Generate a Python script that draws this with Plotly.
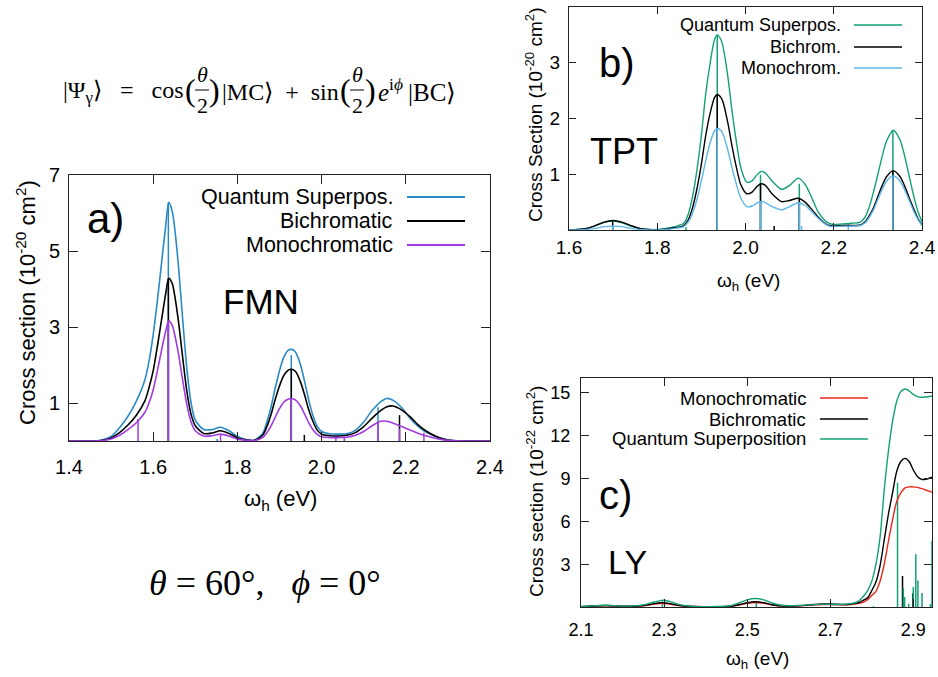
import plotly.graph_objects as go

W, H = 938, 677


def px(x):
    return x / W


def py(y):
    return 1 - y / H


# ---------------- Panel a) FMN ----------------
xa = [1.40, 1.46, 1.48, 1.50, 1.52, 1.54, 1.56, 1.58, 1.59, 1.60, 1.61, 1.62, 1.63, 1.637, 1.645,
      1.65, 1.66, 1.67, 1.68, 1.69, 1.70, 1.72, 1.74, 1.76, 1.78, 1.80, 1.82, 1.84, 1.86, 1.87,
      1.88, 1.89, 1.90, 1.91, 1.92, 1.928, 1.935, 1.94, 1.95, 1.96, 1.97, 1.98, 1.99, 2.00, 2.02,
      2.04, 2.06, 2.08, 2.10, 2.12, 2.14, 2.155, 2.17, 2.19, 2.21, 2.23, 2.25, 2.27, 2.29, 2.31,
      2.34, 2.40]
a_qs = [0, 0, 0.03, 0.12, 0.35, 0.65, 1.05, 1.6, 2.1, 2.8, 3.7, 4.7, 5.7, 6.28, 6.05,
        5.7, 4.6, 3.2, 1.9, 1.0, 0.55, 0.3, 0.3, 0.36, 0.27, 0.12, 0.04, 0.02, 0.2, 0.5,
        0.9, 1.4, 1.85, 2.2, 2.38, 2.41, 2.38, 2.3, 2.0, 1.55, 1.05, 0.65, 0.38, 0.25, 0.19,
        0.18, 0.19, 0.28, 0.5, 0.8, 1.03, 1.12, 1.07, 0.88, 0.6, 0.38, 0.22, 0.12, 0.05, 0.01,
        0, 0]
a_bc = [0, 0, 0.02, 0.08, 0.22, 0.42, 0.68, 1.05, 1.4, 1.85, 2.5, 3.2, 3.9, 4.28, 4.15,
        3.9, 3.15, 2.2, 1.3, 0.7, 0.4, 0.2, 0.21, 0.27, 0.2, 0.08, 0.03, 0.02, 0.15, 0.38,
        0.7, 1.1, 1.45, 1.72, 1.86, 1.89, 1.86, 1.8, 1.55, 1.2, 0.8, 0.5, 0.28, 0.18, 0.14,
        0.13, 0.15, 0.22, 0.38, 0.6, 0.8, 0.9, 0.92, 0.82, 0.64, 0.42, 0.25, 0.13, 0.05, 0.01,
        0, 0]
a_mc = [0, 0, 0.01, 0.05, 0.15, 0.3, 0.48, 0.75, 1.0, 1.35, 1.85, 2.4, 2.9, 3.16, 3.05,
        2.85, 2.3, 1.6, 0.95, 0.5, 0.27, 0.13, 0.14, 0.18, 0.13, 0.05, 0.02, 0.01, 0.09, 0.22,
        0.4, 0.63, 0.85, 1.02, 1.1, 1.12, 1.1, 1.06, 0.92, 0.7, 0.47, 0.29, 0.17, 0.11, 0.09,
        0.09, 0.1, 0.15, 0.25, 0.4, 0.52, 0.52, 0.47, 0.38, 0.29, 0.2, 0.13, 0.07, 0.03, 0.01,
        0, 0]
a_qs_stick_x = [1.636, 1.752, 1.928, 2.134]
a_qs_stick_h = [6.28, 0.05, 2.26, 0.89]
a_bc_stick_x = [1.636, 1.928, 1.959, 2.185]
a_bc_stick_h = [4.28, 1.89, 0.16, 0.68]
a_mc_stick_x = [1.564, 1.636, 1.760, 1.928, 2.034, 2.054, 2.134, 2.185, 2.243]
a_mc_stick_h = [0.58, 3.16, 0.17, 1.12, 0.1, 0.1, 0.51, 0.33, 0.22]
a_xticks = [1.4, 1.6, 1.8, 2.0, 2.2, 2.4]
a_xticklabels = ["1.4", "1.6", "1.8", "2.0", "2.2", "2.4"]
a_yticks = [1, 3, 5, 7]

# ---------------- Panel b) TPT ----------------
xb = [1.60, 1.62, 1.64, 1.66, 1.68, 1.70, 1.72, 1.74, 1.76, 1.78, 1.80, 1.82, 1.84, 1.86, 1.87,
      1.88, 1.89, 1.90, 1.91, 1.92, 1.93, 1.936, 1.945, 1.95, 1.96, 1.97, 1.98, 1.99, 2.003,
      2.015, 2.025, 2.035, 2.045, 2.06, 2.082, 2.10, 2.12, 2.135, 2.15, 2.165, 2.18, 2.19, 2.20,
      2.22, 2.24, 2.26, 2.27, 2.28, 2.29, 2.30, 2.31, 2.32, 2.335, 2.35, 2.36, 2.37, 2.38, 2.39,
      2.40]
b_qs = [0, 0.01, 0.03, 0.08, 0.14, 0.16, 0.13, 0.07, 0.03, 0.01, 0.01, 0.03, 0.06, 0.12, 0.28,
        0.6, 1.08, 1.7, 2.45, 3.0, 3.42, 3.5, 3.4, 3.25, 2.75, 2.1, 1.55, 1.1, 0.86,
        0.88, 0.98, 1.05, 1.02, 0.88, 0.73, 0.8, 0.93, 0.82, 0.58, 0.32, 0.17, 0.12, 0.1,
        0.11, 0.12, 0.14, 0.22, 0.4, 0.68, 1.0, 1.33, 1.6, 1.79, 1.62, 1.35, 1.0, 0.65, 0.35,
        0.15]
b_bc = [0, 0.01, 0.03, 0.08, 0.14, 0.17, 0.14, 0.08, 0.03, 0.01, 0.0, 0.02, 0.04, 0.08, 0.18,
        0.4, 0.74, 1.18, 1.7, 2.1, 2.38, 2.43, 2.37, 2.27, 1.92, 1.48, 1.1, 0.8, 0.65,
        0.68, 0.77, 0.83, 0.8, 0.65, 0.51, 0.53, 0.57, 0.5, 0.37, 0.23, 0.12, 0.08, 0.07,
        0.08, 0.08, 0.09, 0.14, 0.25, 0.4, 0.6, 0.8, 0.96, 1.06, 0.96, 0.8, 0.6, 0.4, 0.22,
        0.09]
b_mc = [0, 0, 0.01, 0.03, 0.06, 0.07, 0.06, 0.03, 0.01, 0, 0, 0.01, 0.03, 0.06, 0.14,
        0.3, 0.55, 0.88, 1.25, 1.57, 1.78, 1.82, 1.78, 1.7, 1.43, 1.1, 0.8, 0.56, 0.42,
        0.43, 0.48, 0.51, 0.49, 0.42, 0.36, 0.42, 0.49, 0.44, 0.33, 0.21, 0.11, 0.07, 0.06,
        0.07, 0.07, 0.08, 0.12, 0.22, 0.36, 0.55, 0.73, 0.88, 0.97, 0.88, 0.73, 0.55, 0.36, 0.2,
        0.08]
b_qs_stick_x = [1.865, 1.936, 2.034, 2.122, 2.334]
b_qs_stick_h = [0.05, 3.5, 0.99, 0.83, 1.79]
b_bc_stick_x = [1.699, 1.936, 2.034, 2.065, 2.122, 2.334]
b_bc_stick_h = [0.17, 2.43, 0.83, 0.07, 0.57, 1.06]
b_mc_stick_x = [1.699, 1.936, 2.034, 2.122, 2.127, 2.233, 2.334]
b_mc_stick_h = [0.07, 1.82, 0.5, 0.49, 0.07, 0.12, 0.97]
b_xticks = [1.6, 1.8, 2.0, 2.2, 2.4]
b_xticklabels = ["1.6", "1.8", "2.0", "2.2", "2.4"]
b_yticks = [1, 2, 3, 4]

# ---------------- Panel c) LY ----------------
xc = [2.10, 2.13, 2.16, 2.19, 2.22, 2.25, 2.27, 2.29, 2.30, 2.32, 2.34, 2.37, 2.40, 2.43, 2.46,
      2.48, 2.50, 2.52, 2.54, 2.56, 2.59, 2.62, 2.65, 2.68, 2.71, 2.74, 2.76, 2.77, 2.78, 2.79,
      2.80, 2.81, 2.82, 2.83, 2.84, 2.85, 2.86, 2.87, 2.88, 2.89, 2.90, 2.91, 2.92, 2.93, 2.945]
c_mc = [0.02, 0.06, 0.09, 0.06, 0.04, 0.08, 0.17, 0.24, 0.24, 0.17, 0.08, 0.03, 0.02, 0.02, 0.05,
        0.14, 0.26, 0.32, 0.26, 0.14, 0.05, 0.06, 0.12, 0.17, 0.16, 0.15, 0.2, 0.25, 0.35, 0.52,
        0.8, 1.1, 1.8, 3.0, 4.6, 6.1, 7.4, 8.0, 8.35, 8.42, 8.42, 8.38, 8.3, 8.2, 8.05]
c_bc = [0.02, 0.07, 0.1, 0.07, 0.05, 0.1, 0.2, 0.3, 0.3, 0.2, 0.1, 0.03, 0.02, 0.02, 0.06,
        0.16, 0.3, 0.37, 0.3, 0.16, 0.06, 0.08, 0.15, 0.22, 0.2, 0.18, 0.25, 0.33, 0.48, 0.65,
        1.15, 1.75, 2.9, 4.7, 6.5, 8.0, 9.5, 10.2, 10.42, 10.2, 9.6, 9.15, 8.95, 8.95, 9.1]
c_qs = [0.03, 0.08, 0.12, 0.08, 0.06, 0.15, 0.3, 0.45, 0.47, 0.33, 0.15, 0.04, 0.02, 0.03, 0.1,
        0.28, 0.5, 0.6, 0.5, 0.28, 0.1, 0.1, 0.15, 0.2, 0.18, 0.2, 0.3, 0.45, 0.75, 1.15,
        1.8, 3.0, 4.9, 8.2, 10.9, 13.0, 14.4, 15.1, 15.28, 15.15, 14.9, 14.75, 14.7, 14.72, 14.79]
c_bc_stick_x = [2.874, 2.899]
c_bc_stick_h = [2.17, 0.96]
c_qs_stick_x = [2.296, 2.522, 2.804, 2.862, 2.876, 2.879, 2.889, 2.900, 2.906, 2.911, 2.921,
                2.941, 2.945]
c_qs_stick_h = [0.4, 0.35, 0.05, 8.71, 1.33, 0.7, 0.23, 1.4, 3.69, 1.85, 0.98, 0.2, 4.62]
c_xticks = [2.1, 2.3, 2.5, 2.7, 2.9]
c_xticklabels = ["2.1", "2.3", "2.5", "2.7", "2.9"]
c_yticks = [3, 6, 9, 12, 15]

# colours
BLUE_A = "#2a8ac6"
PURPLE = "#a23be0"
GREEN = "#14a078"
SKY = "#5cb6ea"
RED = "#e8281a"
BLACK = "#000000"

SANS = "Liberation Sans, Arial, sans-serif"
SERIF = "Liberation Serif, Times New Roman, serif"


def sticks(xs, hs):
    X, Y = [], []
    for x, h in zip(xs, hs):
        X += [x, x, None]
        Y += [0, h, None]
    return X, Y


fig = go.Figure()


def add_sticks(xs, hs, color, xa_, ya_, width=1.5):
    X, Y = sticks(xs, hs)
    fig.add_trace(go.Scatter(x=X, y=Y, mode="lines", line=dict(color=color, width=width),
                             xaxis=xa_, yaxis=ya_, showlegend=False, hoverinfo="skip"))


def add_curve(x, y, color, name, xa_, ya_, width=1.6):
    fig.add_trace(go.Scatter(x=x, y=y, mode="lines", name=name,
                             line=dict(color=color, width=width, shape="spline", smoothing=0.8),
                             xaxis=xa_, yaxis=ya_, showlegend=False))


# panel a
add_sticks(a_qs_stick_x, a_qs_stick_h, BLUE_A, "x", "y")
add_sticks(a_bc_stick_x, a_bc_stick_h, BLACK, "x", "y")
add_sticks(a_mc_stick_x, a_mc_stick_h, PURPLE, "x", "y")
add_curve(xa, a_qs, BLUE_A, "Quantum Superpos.", "x", "y")
add_curve(xa, a_bc, BLACK, "Bichromatic", "x", "y")
add_curve(xa, a_mc, PURPLE, "Monochromatic", "x", "y")

# panel b
add_sticks(b_qs_stick_x, b_qs_stick_h, GREEN, "x2", "y2")
add_sticks(b_bc_stick_x, b_bc_stick_h, BLACK, "x2", "y2")
add_sticks(b_mc_stick_x, b_mc_stick_h, SKY, "x2", "y2")
add_curve(xb, b_qs, GREEN, "Quantum Superpos.", "x2", "y2", 1.4)
add_curve(xb, b_bc, BLACK, "Bichrom.", "x2", "y2", 1.4)
add_curve(xb, b_mc, SKY, "Monochrom.", "x2", "y2", 1.4)

# panel c
add_sticks(c_bc_stick_x, c_bc_stick_h, BLACK, "x3", "y3")
add_sticks(c_qs_stick_x, c_qs_stick_h, GREEN, "x3", "y3")
add_curve(xc, c_mc, RED, "Monochromatic", "x3", "y3", 1.4)
add_curve(xc, c_bc, BLACK, "Bichromatic", "x3", "y3", 1.4)
add_curve(xc, c_qs, GREEN, "Quantum Superposition", "x3", "y3", 1.4)


def axis_style(domain, rng, tickvals, ticktext, size, ticklen, anchor, standoff):
    d = dict(domain=domain, range=rng, tickvals=tickvals, showline=True, linecolor="#222",
             linewidth=1, mirror="allticks", ticks="inside", ticklen=ticklen, tickcolor="#222",
             showgrid=False, zeroline=False, anchor=anchor, automargin=False,
             tickfont=dict(family=SANS, size=size, color="black"), ticklabelstandoff=standoff)
    if ticktext is not None:
        d["ticktext"] = ticktext
    return d


fig.update_layout(
    width=W, height=H, margin=dict(l=0, r=0, t=0, b=0, pad=0, autoexpand=False),
    paper_bgcolor="white", plot_bgcolor="white", showlegend=False,
    xaxis=axis_style([px(69), px(490)], [1.4, 2.4], a_xticks, a_xticklabels, 20, 9, "y", 8),
    yaxis=axis_style([py(441), py(175)], [0, 7], a_yticks, None, 20, 9, "x", 4),
    xaxis2=axis_style([px(569), px(922)], [1.6, 2.4], b_xticks, b_xticklabels, 19, 7, "y2", 0),
    yaxis2=axis_style([py(230), py(7)], [0, 4], b_yticks, None, 19, 7, "x2", 4),
    xaxis3=axis_style([px(581), px(932)], [2.1, 2.945], c_xticks, c_xticklabels, 18, 8, "y3", 6),
    yaxis3=axis_style([py(607), py(378)], [0, 16.05], c_yticks, None, 18, 8, "x3", 6),
)

ann = []
shapes = []


def text(x, y, s, size, family=SANS, xanchor="center", angle=0, color="black"):
    ann.append(dict(x=px(x), y=py(y), xref="paper", yref="paper", text=s, showarrow=False,
                    xanchor=xanchor, yanchor="middle", textangle=angle,
                    font=dict(family=family, size=size, color=color)))


def hline(x0, x1, y, color, width=1.6):
    shapes.append(dict(type="line", xref="paper", yref="paper", x0=px(x0), x1=px(x1),
                       y0=py(y), y1=py(y), line=dict(color=color, width=width)))


# panel a labels
text(105, 219, "a)", 42)
text(261, 301, "FMN", 35)
text(26, 303, "Cross section (10<sup>-20</sup> cm<sup>2</sup>)", 22, angle=-90)
text(280, 500, "ω<sub>h</sub> (eV)", 22)
for lbl, yy, col in [("Quantum Superpos.", 197, BLUE_A), ("Bichromatic", 221, BLACK),
                     ("Monochromatic", 245, PURPLE)]:
    text(395, yy, lbl, 21.5, xanchor="right")
    hline(407, 465, yy, col, 2)

# panel b labels
text(617, 63, "b)", 40)
text(624, 152, "TPT", 36)
text(534, 115, "Cross Section (10<sup>-20</sup> cm<sup>2</sup>)", 19, angle=-90)
text(748, 282, "ω<sub>h</sub> (eV)", 19)
for lbl, yy, col in [("Quantum Superpos.", 25, GREEN), ("Bichrom.", 47, BLACK),
                     ("Monochrom.", 68, SKY)]:
    text(843, yy, lbl, 18, xanchor="right")
    hline(854, 902, yy, col, 1.5)

# panel c labels
text(615, 495, "c)", 40)
text(627, 562, "LY", 34)
text(535, 492, "Cross section (10<sup>-22</sup> cm<sup>2</sup>)", 19, angle=-90)
text(757, 660, "ω<sub>h</sub> (eV)", 19)
for lbl, yy, col in [("Monochromatic", 398, RED), ("Bichromatic", 419, BLACK),
                     ("Quantum Superposition", 439, GREEN)]:
    text(808, yy, lbl, 18.5, xanchor="right")
    hline(820, 868, yy, col, 1.5)

# state equation
text(185, 92, "|Ψ<sub>γ</sub>⟩ \u2002=\u2002 cos", 24, SERIF, xanchor="right")
text(190, 90, "(", 32, SERIF)
text(202, 75, "<i>θ</i>", 22, SERIF)
text(202, 106, "2", 22, SERIF)
hline(195, 209, 90, "black", 1)
text(214, 90, ")", 32, SERIF)
text(280, 92, "|MC⟩\u2002+\u2002sin", 24, SERIF)
text(345, 90, "(", 32, SERIF)
text(357, 75, "<i>θ</i>", 22, SERIF)
text(357, 106, "2", 22, SERIF)
hline(350, 364, 90, "black", 1)
text(370, 90, ")", 32, SERIF)
text(376, 90, "<i>e</i><sup>i<i>ϕ</i></sup>\u2009|BC⟩", 25, SERIF, xanchor="left")

# angles
text(265, 583, "<i>θ</i> = 60°,\u2002 <i>ϕ</i> = 0°", 36, SERIF)

fig.update_layout(annotations=ann, shapes=shapes)
fig.write_html("out.html", config={"displayModeBar": False},
               post_script="document.body.style.margin='0px';"
                           "document.body.style.overflow='hidden';")
